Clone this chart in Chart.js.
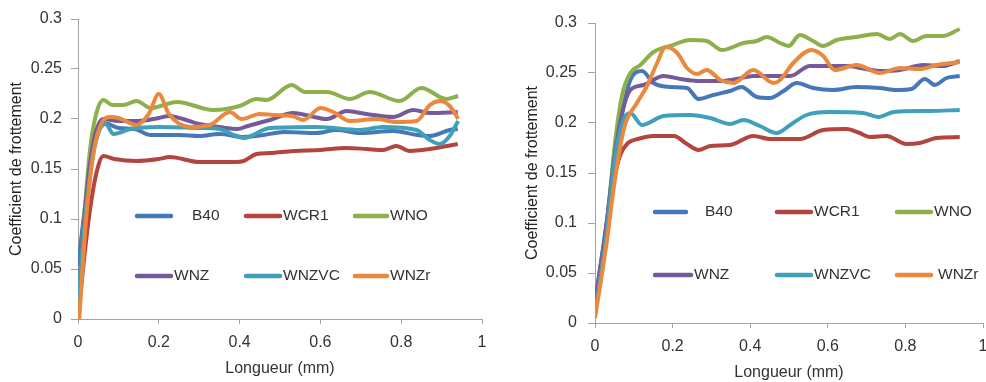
<!DOCTYPE html>
<html>
<head>
<meta charset="utf-8">
<script src="https://cdn.jsdelivr.net/npm/chart.js@4.4.1/dist/chart.umd.min.js"></script>
<style>
  html, body { margin: 0; padding: 0; background: #fff; }
  #wrap { position: relative; width: 986px; height: 382px; overflow: hidden; }
  canvas { position: absolute; top: 0; }
  #leftChart { left: 0; }
  #rightChart { left: 490px; }
</style>
</head>
<body>
<div id="wrap">
  <canvas id="leftChart" width="490" height="382"></canvas>
  <canvas id="rightChart" width="496" height="382"></canvas>
</div>
<script>
// series names and colours (same for both charts)
const seriesNames = ['B40', 'WCR1', 'WNO', 'WNZ', 'WNZVC', 'WNZr'];
const seriesColors = ['#4677b6', '#b3443f', '#8cb04c', '#745a9b', '#3fa0ba', '#ea893d'];

const xTicks = [0, 0.2, 0.4, 0.6, 0.8, 1];
const yTicks = [0, 0.05, 0.1, 0.15, 0.2, 0.25, 0.3];

// ---- left chart ----
const lB40X = [0, 0.02, 0.04, 0.065, 0.1, 0.14, 0.18, 0.25, 0.3, 0.35, 0.41, 0.46, 0.51, 0.59, 0.64, 0.7, 0.78, 0.84, 0.87, 0.92, 0.94];
const lB40Y = [0.053, 0.12, 0.175, 0.196, 0.191, 0.19, 0.184, 0.184, 0.183, 0.185, 0.182, 0.184, 0.187, 0.186, 0.189, 0.186, 0.188, 0.184, 0.183, 0.189, 0.19];

const lWCR1X = [0, 0.015, 0.03, 0.045, 0.063, 0.09, 0.145, 0.2, 0.227, 0.3, 0.39, 0.41, 0.442, 0.475, 0.533, 0.6, 0.665, 0.714, 0.755, 0.788, 0.821, 0.871, 0.94];
const lWCR1Y = [0, 0.06, 0.11, 0.145, 0.163, 0.16, 0.158, 0.16, 0.162, 0.157, 0.157, 0.158, 0.165, 0.166, 0.168, 0.169, 0.171, 0.17, 0.169, 0.173, 0.168, 0.17, 0.175];

const lWNOX = [0, 0.015, 0.03, 0.045, 0.063, 0.085, 0.112, 0.145, 0.18, 0.245, 0.335, 0.4, 0.442, 0.467, 0.529, 0.562, 0.616, 0.673, 0.722, 0.796, 0.85, 0.912, 0.941];
const lWNOY = [0.01, 0.1, 0.17, 0.205, 0.219, 0.214, 0.214, 0.218, 0.211, 0.217, 0.209, 0.213, 0.22, 0.219, 0.234, 0.227, 0.227, 0.22, 0.227, 0.218, 0.231, 0.22, 0.223];

const lWNZX = [0, 0.02, 0.04, 0.063, 0.1, 0.15, 0.2, 0.225, 0.26, 0.3, 0.35, 0.395, 0.42, 0.475, 0.533, 0.574, 0.616, 0.665, 0.714, 0.78, 0.83, 0.871, 0.94];
const lWNZY = [0.02, 0.12, 0.18, 0.2, 0.198, 0.198, 0.201, 0.203, 0.2, 0.195, 0.192, 0.19, 0.193, 0.199, 0.206, 0.203, 0.2, 0.208, 0.205, 0.202, 0.209, 0.206, 0.207];

const lWNZVCX = [0, 0.02, 0.04, 0.068, 0.088, 0.13, 0.2, 0.3, 0.35, 0.38, 0.41, 0.475, 0.591, 0.698, 0.755, 0.838, 0.871, 0.896, 0.92, 0.941];
const lWNZVCY = [0.02, 0.11, 0.17, 0.195, 0.185, 0.19, 0.192, 0.191, 0.19, 0.185, 0.181, 0.191, 0.192, 0.189, 0.192, 0.189, 0.179, 0.175, 0.183, 0.198];

const lWNZrX = [0.003, 0.02, 0.04, 0.06, 0.08, 0.1, 0.145, 0.175, 0.2, 0.225, 0.277, 0.326, 0.376, 0.405, 0.45, 0.484, 0.53, 0.558, 0.6, 0.632, 0.673, 0.739, 0.788, 0.838, 0.871, 0.896, 0.92, 0.941];
const lWNZrY = [0, 0.1, 0.17, 0.197, 0.202, 0.201, 0.194, 0.205, 0.225, 0.205, 0.192, 0.194, 0.207, 0.2, 0.205, 0.204, 0.203, 0.199, 0.211, 0.207, 0.198, 0.2, 0.197, 0.198, 0.214, 0.218, 0.213, 0.2];

// ---- right chart ----
const rB40X = [0, 0.03, 0.05, 0.07, 0.09, 0.121, 0.151, 0.194, 0.237, 0.267, 0.305, 0.348, 0.378, 0.417, 0.451, 0.486, 0.52, 0.562, 0.614, 0.674, 0.734, 0.777, 0.815, 0.85, 0.876, 0.906, 0.94];
const rB40Y = [0.02, 0.1, 0.165, 0.21, 0.242, 0.252, 0.24, 0.236, 0.235, 0.224, 0.228, 0.232, 0.236, 0.226, 0.225, 0.232, 0.24, 0.235, 0.233, 0.236, 0.235, 0.233, 0.234, 0.244, 0.238, 0.245, 0.247];

const rWCR1X = [0, 0.03, 0.05, 0.065, 0.085, 0.11, 0.151, 0.203, 0.237, 0.267, 0.297, 0.348, 0.408, 0.451, 0.528, 0.588, 0.648, 0.682, 0.708, 0.751, 0.803, 0.837, 0.88, 0.94];
const rWCR1Y = [0.01, 0.09, 0.145, 0.168, 0.18, 0.184, 0.187, 0.187, 0.179, 0.173, 0.177, 0.178, 0.187, 0.184, 0.184, 0.193, 0.194, 0.19, 0.186, 0.187, 0.179, 0.18, 0.185, 0.186];

const rWNOX = [0, 0.03, 0.05, 0.07, 0.091, 0.117, 0.151, 0.194, 0.245, 0.288, 0.327, 0.383, 0.417, 0.443, 0.477, 0.499, 0.528, 0.562, 0.588, 0.623, 0.674, 0.726, 0.76, 0.786, 0.82, 0.854, 0.897, 0.94];
const rWNOY = [0.01, 0.095, 0.175, 0.228, 0.25, 0.258, 0.271, 0.277, 0.283, 0.282, 0.273, 0.28, 0.282, 0.286, 0.28, 0.277, 0.288, 0.282, 0.277, 0.283, 0.286, 0.289, 0.284, 0.289, 0.282, 0.287, 0.287, 0.294];

const rWNZX = [0, 0.03, 0.05, 0.07, 0.091, 0.125, 0.177, 0.22, 0.263, 0.323, 0.365, 0.408, 0.468, 0.503, 0.554, 0.648, 0.734, 0.786, 0.846, 0.897, 0.94];
const rWNZY = [0.02, 0.1, 0.165, 0.21, 0.233, 0.238, 0.247, 0.244, 0.242, 0.242, 0.244, 0.247, 0.247, 0.247, 0.257, 0.257, 0.252, 0.253, 0.258, 0.257, 0.262];

const rWNZVCX = [0, 0.03, 0.05, 0.07, 0.091, 0.121, 0.177, 0.245, 0.297, 0.348, 0.383, 0.425, 0.468, 0.503, 0.545, 0.605, 0.691, 0.73, 0.77, 0.863, 0.94];
const rWNZVCY = [0.01, 0.09, 0.16, 0.2, 0.21, 0.198, 0.207, 0.208, 0.205, 0.199, 0.203, 0.197, 0.19, 0.198, 0.208, 0.211, 0.21, 0.206, 0.211, 0.212, 0.213];

const rWNZrX = [0, 0.03, 0.05, 0.075, 0.108, 0.134, 0.16, 0.182, 0.212, 0.237, 0.263, 0.288, 0.323, 0.357, 0.408, 0.46, 0.477, 0.511, 0.558, 0.588, 0.618, 0.674, 0.734, 0.786, 0.837, 0.88, 0.94];
const rWNZrY = [0.005, 0.08, 0.14, 0.195, 0.22, 0.237, 0.26, 0.276, 0.27, 0.255, 0.249, 0.253, 0.243, 0.24, 0.253, 0.24, 0.243, 0.26, 0.273, 0.267, 0.253, 0.258, 0.25, 0.255, 0.254, 0.258, 0.261];

const textColor = '#333333';
const axisColor = '#a3a3a3';
Chart.defaults.font.family = '"Liberation Sans", Arial, sans-serif';
Chart.defaults.font.size = 16;
Chart.defaults.color = textColor;

function pts(xs, ys) {
  return xs.map((x, i) => ({ x: x, y: ys[i] }));
}

function fmt(v) {
  return String(Number(v.toFixed(2)));
}

// legend drawn inside the plot, Excel style
const fixedLegend = {
  id: 'fixedLegend',
  afterDatasetsDraw(chart, args, opts) {
    const ctx = chart.ctx;
    ctx.save();
    ctx.font = '15.5px "Liberation Sans", Arial, sans-serif';
    ctx.textBaseline = 'middle';
    ctx.lineWidth = 4.5;
    ctx.lineCap = 'round';
    opts.items.forEach((it, i) => {
      const ds = chart.data.datasets[i];
      ctx.strokeStyle = ds.borderColor;
      ctx.beginPath();
      ctx.moveTo(it.x0 + 2, it.y);
      ctx.lineTo(it.x1 - 2, it.y);
      ctx.stroke();
      ctx.fillStyle = textColor;
      ctx.fillText(ds.label, it.tx, it.y);
    });
    ctx.restore();
  }
};

function makeChart(id, seriesXY, box, legendItems) {
  const datasets = seriesXY.map((s, i) => ({
    label: seriesNames[i],
    data: pts(s[0], s[1]),
    borderColor: seriesColors[i],
    backgroundColor: seriesColors[i],
    borderWidth: 4,
    pointRadius: 0,
    fill: false,
    cubicInterpolationMode: 'monotone',
    order: seriesNames.length - 1 - i
  }));

  return new Chart(document.getElementById(id), {
    type: 'line',
    data: { datasets: datasets },
    plugins: [fixedLegend],
    options: {
      responsive: false,
      animation: false,
      devicePixelRatio: 1,
      layout: { padding: { left: 0, right: box.padRight, top: box.padTop, bottom: 0 } },
      plugins: {
        legend: { display: false },
        tooltip: { enabled: false },
        fixedLegend: { items: legendItems }
      },
      scales: {
        x: {
          type: 'linear',
          min: 0,
          max: 1,
          afterBuildTicks: (s) => { s.ticks = xTicks.map(v => ({ value: v })); },
          ticks: { padding: 9, color: textColor, maxRotation: 0, callback: fmt },
          grid: { drawOnChartArea: false, drawTicks: true, tickLength: 5, color: axisColor },
          border: { color: axisColor, width: 1 },
          title: { display: true, text: 'Longueur (mm)', color: textColor, padding: { top: 0, bottom: box.xTitlePad } },
          afterFit: (s) => { s.height = box.xHeight; s.paddingLeft = 0; s.paddingRight = 0; }
        },
        y: {
          type: 'linear',
          min: 0,
          max: 0.3,
          afterBuildTicks: (s) => { s.ticks = yTicks.map(v => ({ value: v })); },
          ticks: { padding: box.yTickPad, color: textColor, callback: fmt },
          grid: { drawOnChartArea: false, drawTicks: true, tickLength: 7, color: axisColor },
          border: { color: axisColor, width: 1 },
          title: { display: true, text: 'Coefficient de frottement', color: '#222222', padding: { top: box.yTitlePad, bottom: 0 } },
          afterFit: (s) => { s.width = box.yWidth; s.paddingTop = 0; s.paddingBottom = 0; }
        }
      }
    }
  });
}

makeChart('leftChart',
  [[lB40X, lB40Y], [lWCR1X, lWCR1Y], [lWNOX, lWNOY], [lWNZX, lWNZY], [lWNZVCX, lWNZVCY], [lWNZrX, lWNZrY]],
  { padRight: 8, padTop: 19, xHeight: 63, yWidth: 78, xTitlePad: 4, yTitlePad: 7, yTickPad: 9 },
  [
    { x0: 135, x1: 173, tx: 192, y: 216 },
    { x0: 244, x1: 282, tx: 283, y: 216 },
    { x0: 353, x1: 389, tx: 390, y: 216 },
    { x0: 135, x1: 173, tx: 174, y: 276 },
    { x0: 244, x1: 282, tx: 283, y: 276 },
    { x0: 353, x1: 389, tx: 390, y: 276 }
  ]);

makeChart('rightChart',
  [[rB40X, rB40Y], [rWCR1X, rWCR1Y], [rWNOX, rWNOY], [rWNZX, rWNZY], [rWNZVCX, rWNZVCY], [rWNZrX, rWNZrY]],
  { padRight: 3, padTop: 23, xHeight: 59, yWidth: 105, xTitlePad: 0, yTitlePad: 33, yTickPad: 11 },
  [
    { x0: 163, x1: 198, tx: 215, y: 212 },
    { x0: 285, x1: 323, tx: 324, y: 212 },
    { x0: 405, x1: 443, tx: 444, y: 212 },
    { x0: 163, x1: 203, tx: 204, y: 275 },
    { x0: 285, x1: 323, tx: 324, y: 275 },
    { x0: 405, x1: 443, tx: 448, y: 275 }
  ]);
</script>
</body>
</html>
